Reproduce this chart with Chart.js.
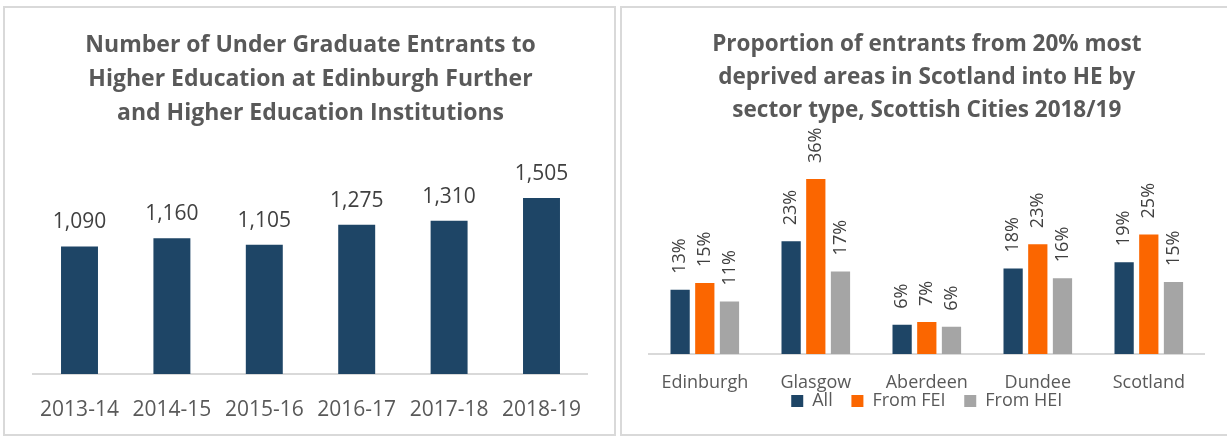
<!DOCTYPE html>
<html>
<head>
<meta charset="utf-8">
<script src="https://cdn.jsdelivr.net/npm/chart.js@4/dist/chart.umd.min.js"></script>
<style>
  body { margin: 0; background: #fff; width: 1227px; height: 437px; overflow: hidden; position: relative; }
  .panel { position: absolute; border: 2px solid #d9d9d9; background: #fff; }
  #p1 { left: 3px; top: 6px; width: 609px; height: 426px; }
  #p2 { left: 620px; top: 6px; width: 614px; height: 426px; }
  canvas { position: absolute; left: 0; top: 0; }
</style>
</head>
<body>
<div class="panel" id="p1"><canvas id="entrants" width="609" height="426"></canvas></div>
<div class="panel" id="p2"><canvas id="deprived" width="610" height="426"></canvas></div>
<script>
// datos del primer grafico
const anios = ['2013-14', '2014-15', '2015-16', '2016-17', '2017-18', '2018-19'];
const entrantes = [1090, 1160, 1105, 1275, 1310, 1505];

// datos del segundo grafico (porcentajes)
const ciudades = ['Edinburgh', 'Glasgow', 'Aberdeen', 'Dundee', 'Scotland'];
const series = ['All', 'From FEI', 'From HEI'];
const todos = [13.2, 23.2, 6.0, 17.6, 18.9];
const desdeFEI = [14.6, 36.0, 6.6, 22.6, 24.6];
const desdeHEI = [10.8, 17.0, 5.6, 15.6, 14.8];

const FUENTE = "'Open Sans', 'Noto Sans', sans-serif";
const GRIS_TEXTO = '#595959';

// plugin sencillo para las etiquetas encima de las barras
const etiquetas = {
  id: 'etiquetas',
  afterDatasetsDraw(chart, args, opts) {
    const ctx = chart.ctx;
    ctx.save();
    ctx.fillStyle = '#404040';
    ctx.font = opts.size + 'px ' + FUENTE;
    chart.data.datasets.forEach((ds, i) => {
      const meta = chart.getDatasetMeta(i);
      meta.data.forEach((bar, j) => {
        const texto = opts.formato(ds.data[j]);
        if (opts.vertical) {
          ctx.save();
          ctx.translate(bar.x, bar.y - opts.gap);
          ctx.rotate(-Math.PI / 2);
          ctx.textAlign = 'left';
          ctx.textBaseline = 'middle';
          ctx.fillText(texto, 0, 0);
          ctx.restore();
        } else {
          ctx.textAlign = 'center';
          ctx.textBaseline = 'alphabetic';
          ctx.fillText(texto, bar.x, bar.y - opts.gap);
        }
      });
    });
    ctx.restore();
  }
};

new Chart(document.getElementById('entrants'), {
  type: 'bar',
  data: {
    labels: anios,
    datasets: [{
      label: 'Entrants',
      data: entrantes,
      backgroundColor: '#1e4566',
      barPercentage: 0.4,
      categoryPercentage: 1
    }]
  },
  plugins: [etiquetas],
  options: {
    responsive: false,
    animation: false,
    layout: { padding: { left: 28.3, right: 26.3, top: 0, bottom: 0 } },
    plugins: {
      legend: { display: false },
      tooltip: { enabled: false },
      title: {
        display: true,
        color: GRIS_TEXTO,
        font: { family: FUENTE, size: 23, weight: 'bold', lineHeight: 34 / 23 },
        text: ['Number of Under Graduate Entrants to', 'Higher Education at Edinburgh Further', 'and Higher Education Institutions'],
        padding: { top: 20, bottom: 10 }
      },
      etiquetas: { size: 21, gap: 18, vertical: false, formato: v => v.toLocaleString('en-GB') }
    },
    scales: {
      x: {
        grid: { display: false, drawTicks: false },
        border: { display: true, color: '#d9d9d9', width: 2 },
        ticks: { color: GRIS_TEXTO, font: { family: FUENTE, size: 21 }, padding: 23, maxRotation: 0, autoSkip: false },
        afterFit(s) { s.height = 60; }
      },
      y: { display: false, min: 0, max: 2000 }
    }
  }
});

new Chart(document.getElementById('deprived'), {
  type: 'bar',
  data: {
    labels: ciudades,
    datasets: [
      { label: series[0], data: todos, backgroundColor: '#1e4566' },
      { label: series[1], data: desdeFEI, backgroundColor: '#fb6600' },
      { label: series[2], data: desdeHEI, backgroundColor: '#a5a5a5' }
    ]
  },
  plugins: [etiquetas],
  options: {
    responsive: false,
    animation: false,
    datasets: { bar: { barPercentage: 0.78, categoryPercentage: 0.667 } },
    layout: { padding: { left: 27.3, right: 27.7, top: 0, bottom: 14 } },
    plugins: {
      legend: {
        position: 'bottom',
        labels: {
          boxWidth: 12, boxHeight: 12, padding: 0, color: GRIS_TEXTO,
          font: { family: FUENTE, size: 18 },
          // padding 0 para pegar la leyenda a las etiquetas; separacion con espacios
          generateLabels(chart) {
            const items = Chart.defaults.plugins.legend.labels.generateLabels(chart);
            items.forEach((it, i) => { if (i < items.length - 1) it.text += '    '; });
            return items;
          }
        }
      },
      tooltip: { enabled: false },
      title: {
        display: true,
        color: GRIS_TEXTO,
        font: { family: FUENTE, size: 22.5, weight: 'bold', lineHeight: 33 / 22.5 },
        text: ['Proportion of entrants from 20% most', 'deprived areas in Scotland into HE by', 'sector type, Scottish Cities 2018/19'],
        padding: { top: 20.5, bottom: 32.1 }
      },
      etiquetas: { size: 18, gap: 16, vertical: true, formato: v => Math.round(v) + '%' }
    },
    scales: {
      x: {
        grid: { display: false, drawTicks: false },
        border: { display: true, color: '#d9d9d9', width: 2 },
        ticks: { color: GRIS_TEXTO, font: { family: FUENTE, size: 18 }, padding: 18, maxRotation: 0, autoSkip: false },
        afterFit(s) { s.height = 38; }
      },
      y: { display: false, min: 0, max: 40 }
    }
  }
});
</script>
</body>
</html>
